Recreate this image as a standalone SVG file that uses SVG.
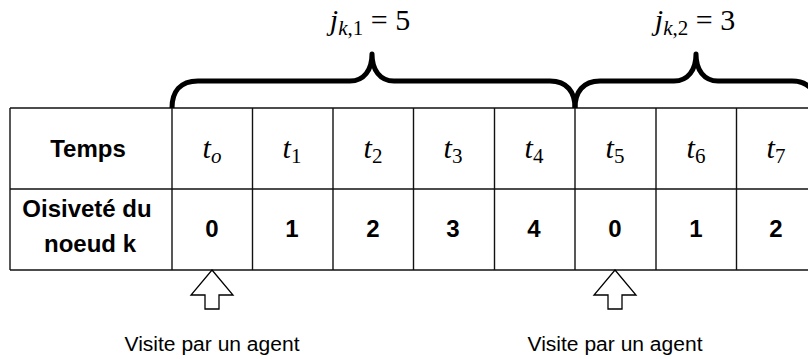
<svg xmlns="http://www.w3.org/2000/svg" width="808" height="359" viewBox="0 0 808 359">
  <style>
    .grid { stroke: #111; stroke-width: 1.4; fill: none; }
    .brace { stroke: #000; stroke-width: 5; fill: none; stroke-linejoin: round; }
    .head { font-family: "Liberation Sans", Arial, sans-serif; font-weight: bold; font-size: 24px; fill: #000; text-anchor: middle; }
    .val { font-family: "Liberation Sans", Arial, sans-serif; font-weight: bold; font-size: 24px; fill: #000; text-anchor: middle; }
    .math { font-family: "Liberation Serif", "Times New Roman", serif; font-size: 30px; fill: #000; text-anchor: middle; }
    .it { font-style: italic; }
    .sub { font-size: 21px; }
    .note { font-family: "Liberation Sans", Arial, sans-serif; font-size: 20px; fill: #000; text-anchor: middle; }
    .arrow { stroke: #000; stroke-width: 1.3; fill: #fff; stroke-linejoin: miter; }
  </style>

  <!-- table grid -->
  <g id="table">
    <line class="grid" x1="10" y1="108" x2="808" y2="108"/>
    <line class="grid" x1="10" y1="189" x2="808" y2="189"/>
    <line class="grid" x1="10" y1="270" x2="808" y2="270"/>
    <line class="grid" x1="10" y1="108" x2="10" y2="270"/>
    <line class="grid" x1="172" y1="108" x2="172" y2="270"/>
    <line class="grid" x1="252.5" y1="108" x2="252.5" y2="270"/>
    <line class="grid" x1="333" y1="108" x2="333" y2="270"/>
    <line class="grid" x1="413.5" y1="108" x2="413.5" y2="270"/>
    <line class="grid" x1="494.5" y1="108" x2="494.5" y2="270"/>
    <line class="grid" x1="575" y1="108" x2="575" y2="270"/>
    <line class="grid" x1="656" y1="108" x2="656" y2="270"/>
    <line class="grid" x1="736.5" y1="108" x2="736.5" y2="270"/>
  </g>

  <!-- row headers -->
  <g id="row-headers">
    <text class="head" x="88" y="157">Temps</text>
    <text class="head" x="87" y="217">Oisiveté du</text>
    <text class="head" x="90" y="252">noeud k</text>
  </g>

  <!-- time labels -->
  <g id="time-row" class="math">
    <text x="212" y="158"><tspan class="it">t</tspan><tspan class="it sub" dy="5">o</tspan></text>
    <text x="292" y="158"><tspan class="it">t</tspan><tspan class="sub" dy="5">1</tspan></text>
    <text x="373" y="158"><tspan class="it">t</tspan><tspan class="sub" dy="5">2</tspan></text>
    <text x="453" y="158"><tspan class="it">t</tspan><tspan class="sub" dy="5">3</tspan></text>
    <text x="534" y="158"><tspan class="it">t</tspan><tspan class="sub" dy="5">4</tspan></text>
    <text x="615" y="158"><tspan class="it">t</tspan><tspan class="sub" dy="5">5</tspan></text>
    <text x="696" y="158"><tspan class="it">t</tspan><tspan class="sub" dy="5">6</tspan></text>
    <text x="776" y="158"><tspan class="it">t</tspan><tspan class="sub" dy="5">7</tspan></text>
  </g>

  <!-- idleness values -->
  <g id="idle-row" class="val">
    <text x="212" y="237">0</text>
    <text x="292" y="237">1</text>
    <text x="373" y="237">2</text>
    <text x="453" y="237">3</text>
    <text x="534" y="237">4</text>
    <text x="615" y="237">0</text>
    <text x="696" y="237">1</text>
    <text x="776" y="237">2</text>
  </g>

  <!-- interval braces -->
  <g id="connectors">
    <path class="brace" d="M172,108 C172,92 180,81 198,81 L350,81 C364,81 372,70 372,54 C372,70 380,81 394,81 L550,81 C567,81 575,92 575,108"/>
    <path class="brace" d="M575,108 C575,92 583,81 600,81 L674,81 C688,81 696,70 696,54 C696,70 704,81 718,81 L792,81 C809,81 817,92 817,108"/>
  </g>

  <g id="interval-1" class="math">
    <text x="370" y="30"><tspan class="it">j</tspan><tspan class="it sub" dy="5">k</tspan><tspan class="sub">,1</tspan><tspan dy="-5"> = 5</tspan></text>
  </g>
  <g id="interval-2" class="math">
    <text x="695" y="30"><tspan class="it">j</tspan><tspan class="it sub" dy="5">k</tspan><tspan class="sub">,2</tspan><tspan dy="-5"> = 3</tspan></text>
  </g>

  <!-- agent visits -->
  <g id="visit-1">
    <polygon class="arrow" points="212,270 233,295 219,295 219,309 205,309 205,295 191,295"/>
    <text class="note" x="212" y="351" textLength="175" lengthAdjust="spacingAndGlyphs">Visite par un agent</text>
  </g>
  <g id="visit-2">
    <polygon class="arrow" points="615,270 636,295 622,295 622,309 608,309 608,295 594,295"/>
    <text class="note" x="615" y="351" textLength="175" lengthAdjust="spacingAndGlyphs">Visite par un agent</text>
  </g>
</svg>
